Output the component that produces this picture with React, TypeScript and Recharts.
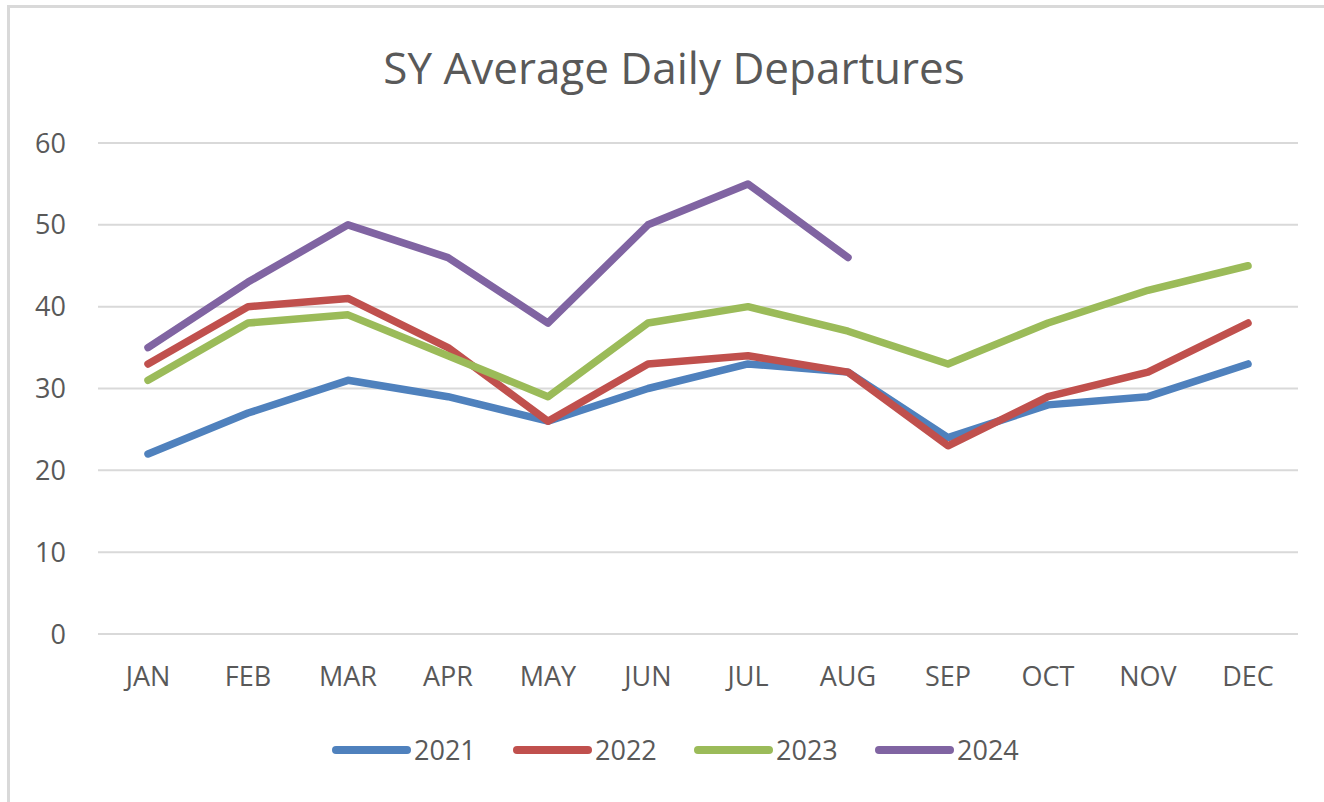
import { LineChart, Line, XAxis, YAxis, CartesianGrid } from "recharts";

const MONTHS = ["JAN", "FEB", "MAR", "APR", "MAY", "JUN", "JUL", "AUG", "SEP", "OCT", "NOV", "DEC"];

const Y2021 = [22, 27, 31, 29, 26, 30, 33, 32, 24, 28, 29, 33];
const Y2022 = [33, 40, 41, 35, 26, 33, 34, 32, 23, 29, 32, 38];
const Y2023 = [31, 38, 39, 34, 29, 38, 40, 37, 33, 38, 42, 45];
const Y2024 = [35, 43, 50, 46, 38, 50, 55, 46];

const Y_TICKS = [0, 10, 20, 30, 40, 50, 60];

const SERIES = [
  { key: "2021", values: Y2021, color: "#4F81BD" },
  { key: "2022", values: Y2022, color: "#C0504D" },
  { key: "2023", values: Y2023, color: "#9BBB59" },
  { key: "2024", values: Y2024, color: "#8064A2" },
];

const data = MONTHS.map((m, i) => {
  const row: Record<string, any> = { month: m };
  SERIES.forEach((s) => {
    row[s.key] = i < s.values.length ? s.values[i] : null;
  });
  return row;
});

const FONT = "'Open Sans', 'Liberation Sans', sans-serif";
const TEXT = "#595959";

export default function App() {
  return (
    <div
      style={{
        position: "absolute",
        left: 0,
        top: 0,
        width: 1324,
        height: 802,
        background: "#fff",
        fontFamily: FONT,
        overflow: "hidden",
      }}
    >
      {/* outer chart border, only top and left visible */}
      <div
        style={{
          position: "absolute",
          left: 7,
          top: 5,
          width: 1330,
          height: 810,
          borderTop: "3px solid #d9d9d9",
          borderLeft: "3px solid #d9d9d9",
        }}
      />
      <div
        style={{
          position: "absolute",
          top: 37,
          left: 0,
          width: 1348,
          textAlign: "center",
          fontSize: 44,
          lineHeight: "normal",
          color: TEXT,
        }}
      >
        SY Average Daily Departures
      </div>
      <div style={{ position: "absolute", left: 0, top: 0 }}>
        <LineChart
          width={1324}
          height={802}
          data={data}
          margin={{ top: 143, right: 26, bottom: 98, left: 0 }}
        >
          <CartesianGrid vertical={false} stroke="#d9d9d9" strokeWidth={2} />
          <XAxis
            dataKey="month"
            axisLine={{ stroke: "#d9d9d9", strokeWidth: 2 }}
            tickLine={false}
            tickSize={0}
            tickMargin={33}
            padding={{ left: 50, right: 50 }}
            height={70}
            tick={{ fill: TEXT, fontSize: 27, fontFamily: FONT }}
          />
          <YAxis
            domain={[0, 60]}
            ticks={Y_TICKS}
            axisLine={false}
            tickLine={false}
            tickSize={0}
            tickMargin={32}
            width={98}
            tick={{ fill: TEXT, fontSize: 27, fontFamily: FONT }}
          />
          {SERIES.map((s) => (
            <Line
              key={s.key}
              dataKey={s.key}
              stroke={s.color}
              strokeWidth={7.5}
              strokeLinecap="round"
              strokeLinejoin="round"
              dot={false}
              activeDot={false}
              isAnimationActive={false}
            />
          ))}
        </LineChart>
      </div>
      <div
        style={{
          position: "absolute",
          top: 731,
          left: 332,
          display: "flex",
          alignItems: "center",
        }}
      >
        {SERIES.map((s) => (
          <div
            key={s.key}
            style={{ display: "flex", alignItems: "center", width: 181 }}
          >
            <div
              style={{
                width: 79,
                height: 8,
                borderRadius: 4,
                background: s.color,
              }}
            />
            <span style={{ marginLeft: 3, fontSize: 27, lineHeight: "38px", color: TEXT }}>
              {s.key}
            </span>
          </div>
        ))}
      </div>
    </div>
  );
}
